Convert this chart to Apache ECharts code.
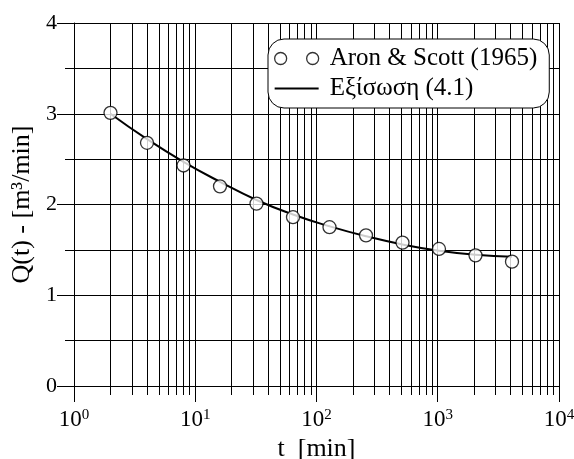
<!DOCTYPE html>
<html>
<head>
<meta charset="utf-8">
<script src="https://cdn.jsdelivr.net/npm/echarts@6/dist/echarts.min.js"></script>
<style>
  html, body { margin: 0; padding: 0; background: #fff; }
  #main { width: 574px; height: 459px; }
</style>
</head>
<body>
<div id="main"></div>
<script>
// measured points (Aron & Scott 1965)
var tPoints = [2, 4, 8, 16, 32, 64, 128, 256, 512, 1024, 2048, 4096];
var qPoints = [3.01, 2.68, 2.43, 2.20, 2.01, 1.86, 1.75, 1.66, 1.58, 1.51, 1.44, 1.37];
// equation (4.1) curve
var tCurve = [2, 4, 8, 16, 32, 64, 128, 256, 512, 1024, 2048, 4096];
var qCurve = [3.0, 2.72, 2.47, 2.25, 2.05, 1.89, 1.76, 1.65, 1.56, 1.49, 1.445, 1.425];
// axis ticks
var xDecades = [1, 10, 100, 1000, 10000];
var xMinor = [2, 3, 4, 5, 6, 7, 8, 9, 20, 30, 40, 50, 60, 70, 80, 90,
  200, 300, 400, 500, 600, 700, 800, 900, 2000, 3000, 4000, 5000, 6000, 7000, 8000, 9000];
var seriesNames = ['Aron & Scott (1965)', 'Εξίσωση (4.1)'];

var font = 'Liberation Serif';
var chart = echarts.init(document.getElementById('main'));

function zip(a, b) {
  return a.map(function (v, i) { return [v, b[i]]; });
}

chart.setOption({
  backgroundColor: '#fff',
  animation: false,
  grid: { left: 74, right: 15, top: 23, bottom: 73, outerBoundsMode: 'none', containLabel: false },
  legend: {
    orient: 'vertical',
    left: 268,
    top: 39,
    padding: [7, 12, 7, 6],
    itemGap: 5,
    itemWidth: 44,
    itemHeight: 12,
    borderColor: '#000',
    borderWidth: 1,
    borderRadius: 16,
    backgroundColor: '#fff',
    textStyle: { fontFamily: font, fontSize: 25, color: '#000', padding: [0, 0, 0, 6] },
    data: [
      {
        name: seriesNames[0],
        icon: 'path://M0,6a6,6 0 1,0 12,0a6,6 0 1,0 -12,0zM32,6a6,6 0 1,0 12,0a6,6 0 1,0 -12,0z',
        itemStyle: { color: '#fff', borderColor: '#000', borderWidth: 1.3 }
      },
      {
        name: seriesNames[1],
        icon: 'path://M0,5h44v2h-44z',
        itemStyle: { color: '#000' }
      }
    ]
  },
  xAxis: [
    {
      type: 'log',
      logBase: 10,
      min: 1,
      max: 10000,
      name: 't  [min]',
      nameLocation: 'middle',
      nameGap: 49,
      nameTextStyle: { fontFamily: font, fontSize: 26, color: '#000' },
      axisLine: { show: true, lineStyle: { color: '#000', width: 1 } },
      axisTick: { show: true, length: 16, customValues: xDecades, lineStyle: { color: '#000' } },
      axisLabel: {
        customValues: xDecades,
        margin: 22,
        formatter: function (v) {
          return '{b|10}{s|' + Math.round(Math.log10(v)) + '}';
        },
        rich: {
          b: { fontFamily: font, fontSize: 23, color: '#000', lineHeight: 24 },
          s: { fontFamily: font, fontSize: 15, color: '#000', verticalAlign: 'top', lineHeight: 14 }
        }
      },
      splitLine: { show: true, lineStyle: { color: '#000', width: 1 } }
    },
    {
      type: 'log',
      logBase: 10,
      min: 1,
      max: 10000,
      position: 'bottom',
      axisLine: { show: false },
      axisTick: { show: true, length: 9, customValues: xMinor, lineStyle: { color: '#000' } },
      axisLabel: { show: false },
      splitLine: { show: true, lineStyle: { color: '#000', width: 1 } }
    }
  ],
  yAxis: {
    type: 'value',
    min: 0,
    max: 4,
    interval: 1,
    name: 'Q(t) - [m³/min]',
    nameLocation: 'middle',
    nameGap: 37,
    nameTextStyle: { fontFamily: font, fontSize: 26, color: '#000' },
    axisLine: { show: true, lineStyle: { color: '#000', width: 1 } },
    axisTick: { show: true, length: 17, lineStyle: { color: '#000' } },
    minorTick: { show: true, splitNumber: 2, length: 9, lineStyle: { color: '#000' } },
    axisLabel: { margin: 17, fontFamily: font, fontSize: 22, color: '#000' },
    splitLine: { show: true, lineStyle: { color: '#000', width: 1 } },
    minorSplitLine: { show: true, lineStyle: { color: '#000', width: 1 } }
  },
  series: [
    {
      name: seriesNames[1],
      type: 'line',
      data: zip(tCurve, qCurve),
      smooth: true,
      symbol: 'none',
      lineStyle: { color: '#000', width: 2 },
      z: 3
    },
    {
      name: seriesNames[0],
      type: 'scatter',
      data: zip(tPoints, qPoints),
      symbol: 'circle',
      symbolSize: 13,
      itemStyle: { color: '#fff', borderColor: '#000', borderWidth: 1.3 },
      z: 4
    }
  ]
});
</script>
</body>
</html>
